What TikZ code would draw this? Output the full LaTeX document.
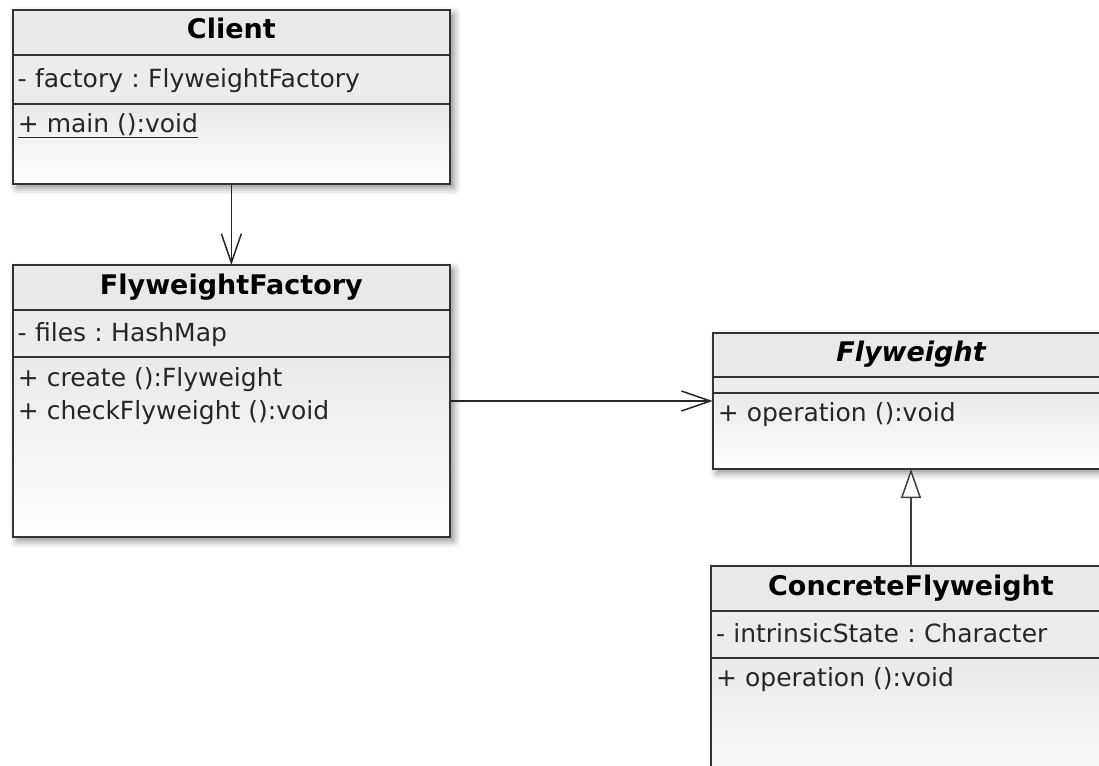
\documentclass[tikz,border=0pt]{standalone}
\usepackage{fontspec}
\setmainfont{DejaVu Sans}
\frenchspacing
\usetikzlibrary{positioning, arrows.meta, backgrounds, fit, shadows.blur}

\tikzset{
    classhead/.style={
        rectangle, draw=black!80, line width=1.8pt, fill=gray!17, outer sep=0pt, minimum height=45pt, text height=19pt, text depth=6pt, font=\fontsize{27}{30}\selectfont\bfseries, text=black
    },
    classattr/.style={
        rectangle, draw=black!80, line width=1.8pt, fill=gray!15, outer sep=0pt, inner xsep=5pt, inner ysep=0pt, minimum height=47pt, text height=20pt, text depth=4pt, align=left, font=\fontsize{25}{33}\selectfont, text=black!85
    },
    classops/.style={
        rectangle, draw=black!80, line width=1.8pt, outer sep=0pt, top color=gray!17, bottom color=white
    },
    opstext/.style={
        inner sep=0pt, align=left, font=\fontsize{25}{33}\selectfont, text=black!85
    },
    classshadow/.style={
        inner sep=0pt, outer sep=0pt, blur shadow={shadow xshift=4pt, shadow yshift=-4pt, shadow blur radius=7pt, shadow opacity=45}
    },
    assoc/.style={
        line width=1.5pt, draw=black!85, -{Straight Barb[length=29pt, width=20pt]}
    },
    inherit/.style={
        line width=1.5pt, draw=black!75, -{Triangle[length=29pt, width=20pt, fill=white]}
    }
}

\begin{document}
\begin{tikzpicture}[x=1pt, y=-1pt]
        % Page frame
        \path[use as bounding box] (0,0) rectangle (1099,765);
        \clip (0,0) rectangle (1099,765);

        % Client
        \node (clienthead) [classhead, minimum width=437.3pt, anchor=north west] at (12.7,10) {Client};
        \node (clientattr) [classattr, text width=427.3pt, minimum height=49pt, below=0pt of clienthead] {- factory : FlyweightFactory};
        \node (clientops) [classops, minimum width=437.3pt, minimum height=80pt, below=0pt of clientattr] {};
        \node [opstext, below right=9pt and 5pt of clientops.north west] {\underline{+ main ():void}};

        % FlyweightFactory
        \node (factoryhead) [classhead, minimum width=437.3pt, anchor=north west] at (12.7,265) {FlyweightFactory};
        \node (factoryattr) [classattr, text width=427.3pt, below=0pt of factoryhead] {- files : HashMap};
        \node (factoryops) [classops, minimum width=437.3pt, minimum height=180pt, below=0pt of factoryattr] {};
        \node [opstext, below right=10pt and 5pt of factoryops.north west] {+ create ():Flyweight\\+ checkFlyweight ():void};

        % Flyweight
        \node (flyhead) [classhead, minimum width=396.6pt, minimum height=44pt, anchor=north west, font=\fontsize{27}{30}\selectfont\bfseries\itshape] at (712.7,333) {Flyweight};
        \node (flyattr) [classattr, text width=386.6pt, minimum height=16pt, text height=0pt, text depth=0pt, below=0pt of flyhead] {};
        \node (flyops) [classops, minimum width=396.6pt, minimum height=76pt, below=0pt of flyattr] {};
        \node [opstext, below right=9pt and 5pt of flyops.north west] {+ operation ():void};

        % ConcreteFlyweight
        \node (concretehead) [classhead, minimum width=400pt, anchor=north west] at (711,566) {ConcreteFlyweight};
        \node (concreteattr) [classattr, text width=390pt, below=0pt of concretehead] {- intrinsicState : Character};
        \node (concreteops) [classops, minimum width=400pt, minimum height=160pt, below=0pt of concreteattr] {};
        \node [opstext, below right=9pt and 5pt of concreteops.north west] {+ operation ():void};

        % Shadows behind the classes
        \begin{scope}[on background layer]
            \node (client) [classshadow, fit=(clienthead)(clientops)] {};
            \node (factory) [classshadow, fit=(factoryhead)(factoryops)] {};
            \node (flyweight) [classshadow, fit=(flyhead)(flyops)] {};
            \node (concrete) [classshadow, fit=(concretehead)(concreteops)] {};
        \end{scope}

        % Arrows
        \draw [assoc] (client) -- (factory);
        \draw [assoc] (factory) -- (flyweight);
        \draw [inherit] (concrete) -- (flyweight);
    \end{tikzpicture}
\end{document}
